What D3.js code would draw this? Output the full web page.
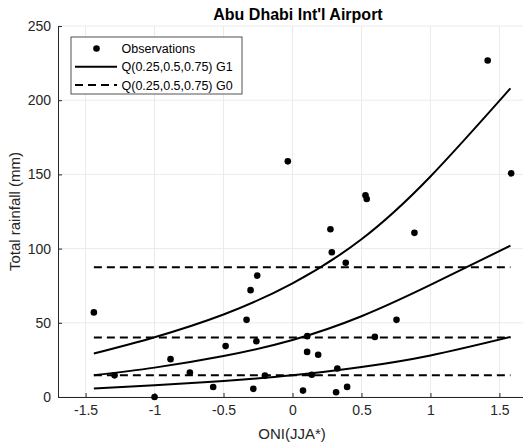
<!DOCTYPE html>
<html><head><meta charset="utf-8">
<script src="https://cdn.jsdelivr.net/npm/d3@7"></script>
<style>body{margin:0;background:#fff;} svg{display:block;}</style>
</head><body>
<svg id="c" width="523" height="446"></svg>
<script>
const title = "Abu Dhabi Int'l Airport";
const xLabel = "ONI(JJA*)";
const yLabel = "Total rainfall (mm)";
const xTicks = [-1.5, -1, -0.5, 0, 0.5, 1, 1.5];
const yTicks = [0, 50, 100, 150, 200, 250];

const obsONI = [-1.44, -1.0, -0.884, -0.744, -0.575, -0.485, -0.333, -0.304, -0.256, -0.262, -0.284, -0.034,
  0.275, 0.285, 0.386, 0.529, 0.538, 0.884, 0.107, 0.597, 0.754, 0.106, 0.186, 0.325, 0.076, 0.316, 0.396,
  1.415, 1.585, -1.29, -0.2, 0.14];
const obsRain = [57, 0, 25.5, 16.5, 6.7, 34.3, 52, 72, 81.8, 37.6, 5.5, 158.8,
  113, 97.5, 90.5, 136, 133.4, 110.6, 41, 40.5, 52, 30.4, 28.5, 19.2, 4.3, 3.2, 6.8,
  226.8, 150.7, 14.6, 14.4, 15];

const curveX = [-1.44, -1, -0.5, 0, 0.5, 1, 1.58];
const g1Q25 = [5.7, 7.9, 10.8, 14.6, 20.2, 28.0, 40.5];
const g1Q50 = [14.7, 19.8, 27.6, 38.4, 54.4, 75.5, 102];
const g1Q75 = [29.3, 40.3, 55.6, 76.6, 106.3, 148.6, 208];

const g0X = [-1.44, 1.58];
const g0Levels = [14.6, 40.1, 87.4];

const svg = d3.select("#c");
const m = {l: 58, r: -4, t: 26, b: 49};
const W = 523, H = 446;
const x = d3.scaleLinear().domain([-1.7, 1.7]).range([m.l, W - m.r]);
const y = d3.scaleLinear().domain([0, 250]).range([H - m.b, m.t]);
const font = "Liberation Sans, Arial, Helvetica, sans-serif";

// grid
const g = svg.append("g");
g.selectAll(".gx").data(xTicks).enter().append("line")
  .attr("x1", d => x(d)).attr("x2", d => x(d)).attr("y1", y(0)).attr("y2", y(250))
  .attr("stroke", "#ebebeb").attr("stroke-width", 1);
g.selectAll(".gy").data(yTicks).enter().append("line")
  .attr("x1", x(-1.7)).attr("x2", W).attr("y1", d => y(d)).attr("y2", d => y(d))
  .attr("stroke", "#ebebeb").attr("stroke-width", 1);

// axes
const xAxis = d3.axisBottom(x).tickValues(xTicks).tickSize(-4).tickPadding(8)
  .tickFormat(d => d3.format("")(d).replace("−", "-"));
const yAxis = d3.axisLeft(y).tickValues(yTicks).tickSize(-4).tickPadding(7);
const ax = svg.append("g").attr("transform", `translate(0,${y(0)})`).call(xAxis);
const ay = svg.append("g").attr("transform", `translate(${x(-1.7)},0)`).call(yAxis);
[ax, ay].forEach(a => {
  a.select(".domain").attr("stroke", "#262626").attr("stroke-width", 1);
  a.selectAll(".tick line").attr("stroke", "#262626");
  a.selectAll("text").attr("fill", "#262626").style("font-family", font).style("font-size", "14px");
});

// G0 dashed
const line = d3.line().x(d => x(d[0])).y(d => y(d[1]));
g0Levels.forEach(v => {
  svg.append("path").attr("d", line(g0X.map(xx => [xx, v])))
    .attr("fill", "none").attr("stroke", "#000").attr("stroke-width", 2)
    .attr("stroke-dasharray", "8,5");
});

// G1 curves
const cl = d3.line().x(d => x(d[0])).y(d => y(d[1])).curve(d3.curveNatural);
[g1Q25, g1Q50, g1Q75].forEach(arr => {
  svg.append("path").attr("d", cl(curveX.map((xx, i) => [xx, arr[i]])))
    .attr("fill", "none").attr("stroke", "#000").attr("stroke-width", 2);
});

// observations
svg.selectAll(".pt").data(obsONI.map((o, i) => [o, obsRain[i]])).enter().append("circle")
  .attr("cx", d => x(d[0])).attr("cy", d => y(d[1])).attr("r", 3.3).attr("fill", "#000");

// title & labels
svg.append("text").attr("x", 298).attr("y", 20).attr("text-anchor", "middle")
  .style("font-family", font).style("font-size", "16px").style("font-weight", "bold").attr("fill", "#000").text(title);
svg.append("text").attr("x", 292).attr("y", 439).attr("text-anchor", "middle")
  .style("font-family", font).style("font-size", "15px").attr("fill", "#262626").text(xLabel);
svg.append("text").attr("transform", `translate(20,${(y(0)+y(250))/2}) rotate(-90)`).attr("text-anchor", "middle")
  .style("font-family", font).style("font-size", "15px").attr("fill", "#262626").text(yLabel);

// legend
const lg = svg.append("g");
lg.append("rect").attr("x", 71).attr("y", 37).attr("width", 171).attr("height", 57)
  .attr("fill", "#fff").attr("stroke", "#262626").attr("stroke-width", 0.8);
const rows = [{t: "Observations", k: "pt"}, {t: "Q(0.25,0.5,0.75) G1", k: "solid"}, {t: "Q(0.25,0.5,0.75) G0", k: "dash"}];
rows.forEach((r, i) => {
  const yy = 48.5 + i * 18.3;
  if (r.k === "pt") lg.append("circle").attr("cx", 96.5).attr("cy", yy).attr("r", 3.3).attr("fill", "#000");
  else lg.append("line").attr("x1", 75).attr("x2", 117).attr("y1", yy).attr("y2", yy)
    .attr("stroke", "#000").attr("stroke-width", 2).attr("stroke-dasharray", r.k === "dash" ? "8,5" : null);
  lg.append("text").attr("x", 121.5).attr("y", yy + 4.5).style("font-family", font).style("font-size", "12.5px")
    .attr("fill", "#000").text(r.t);
});
</script>
</body></html>
